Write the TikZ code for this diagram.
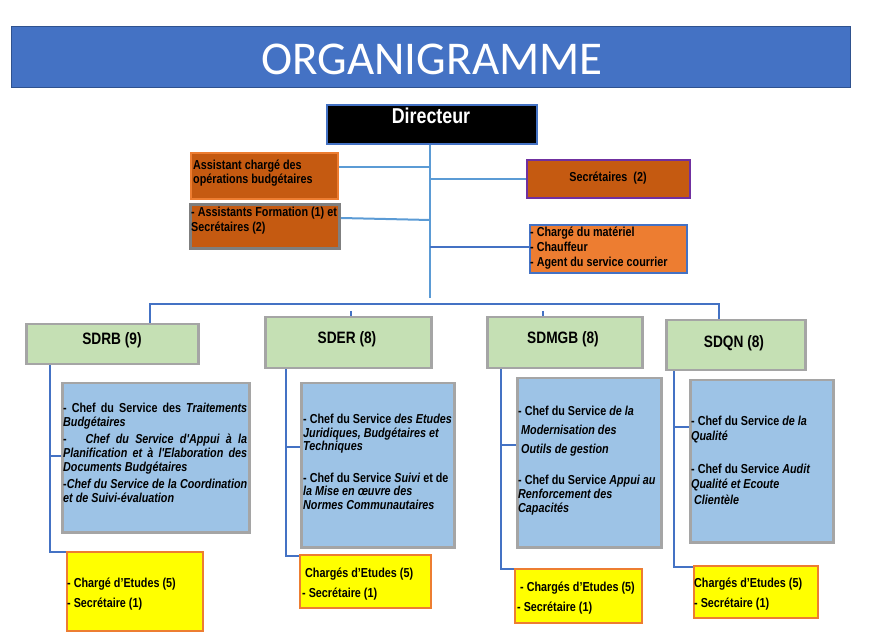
\documentclass[tikz,border=0pt]{standalone}
\usepackage{fontspec}
\setmainfont{Liberation Sans}
\newfontfamily\nar[
  UprightFont=Liberation Sans,
  BoldFont=Liberation Sans Bold,
  ItalicFont=Liberation Sans Italic,
  BoldItalicFont=Liberation Sans Bold Italic,
  FakeStretch=0.83,
  BoldFeatures={FakeStretch=0.83},
  ItalicFeatures={FakeStretch=0.83},
  BoldItalicFeatures={FakeStretch=0.83}]{Liberation Sans}
\newfontfamily\titlefont{Carlito}
\definecolor{tblue}{HTML}{4472C4}
\definecolor{tbluedark}{HTML}{2F528F}
\definecolor{lblue}{HTML}{5B9BD5}
\definecolor{dorange}{HTML}{C55A11}
\definecolor{orange2}{HTML}{ED7D31}
\definecolor{purp}{HTML}{7030A0}
\definecolor{grayb}{HTML}{7F7F7F}
\definecolor{grayc}{HTML}{A5A5A5}
\definecolor{greenf}{HTML}{C5E0B4}
\definecolor{bluef}{HTML}{9DC3E6}
\definecolor{yell}{HTML}{FFFF00}
\tikzset{
  rbox/.style={rectangle, inner sep=0pt, anchor=north west, line width=2pt},
  greenbox/.style={rbox, fill=greenf, draw=grayc, line width=2.5pt},
  bluebox/.style={rbox, fill=bluef, draw=grayc, line width=2.5pt},
  yellbox/.style={rbox, fill=yell, draw=orange2, line width=2pt},
  txt/.style={inner sep=0pt, font=\nar\bfseries\fontsize{13}{14}\selectfont, text=black},
  ltxt/.style={txt, anchor=base west, align=flush left, text width=200pt},
  ytxt/.style={ltxt, font=\nar\bfseries\fontsize{13}{20}\selectfont},
  ttl/.style={inner sep=0pt, font=\nar\bfseries\fontsize{16.5}{18}\selectfont, text=black, anchor=base},
  conn/.style={draw=tblue, line width=2pt},
  lconn/.style={draw=lblue, line width=2pt},
}
\begin{document}
\begin{tikzpicture}[x=1pt,y=-1pt]
\path[use as bounding box] (0,0) rectangle (876,644);
% title
\node[rbox, fill=tblue, draw=tbluedark, line width=1pt, minimum width=839pt, minimum height=61pt] (title) at (11,26) {};
\node[inner sep=0pt, anchor=base, text=white, font=\titlefont\fontsize{47}{50}\selectfont] (titletxt) at (432,75) {ORGANIGRAMME};
% directeur
\node[rbox, fill=black, draw=tblue, line width=2pt, minimum width=210pt, minimum height=39pt] (dir) at (326,104) {};
\node[inner sep=0pt, anchor=base, text=white, font=\nar\bfseries\fontsize{21.5}{24}\selectfont] (dirtxt) at (431,124) {Directeur};
% upper staff boxes
\node[rbox, fill=dorange, draw=orange2, minimum width=147pt, minimum height=46pt] (ba) at (190,152) {};
\node[ltxt, font=\nar\bfseries\fontsize{13}{13.5}\selectfont] (batxt) at (193,170) {Assistant chargé des\\opérations budgétaires};
\node[rbox, fill=dorange, draw=grayb, line width=3pt, minimum width=149pt, minimum height=44pt] (bb) at (189,203) {};
\node[ltxt, font=\nar\bfseries\fontsize{13}{15}\selectfont] (bbtxt) at (191,217) {- Assistants Formation (1) et\\Secrétaires (2)};
\node[rbox, fill=dorange, draw=purp, minimum width=163pt, minimum height=38pt] (sec) at (526,159) {};
\node[txt, anchor=base] (sectxt) at (608,182) {Secrétaires\ \ (2)};
\node[rbox, fill=orange2, draw=tblue, minimum width=157pt, minimum height=48pt] (bd) at (529,224) {};
\node[ltxt, font=\nar\bfseries\fontsize{13}{15}\selectfont] (bdtxt) at (530,237) {- Chargé du matériel\\- Chauffeur\\- Agent du service courrier};
% upper connectors
\coordinate (vend) at (430,298);
\draw[lconn] (dir.south -| vend) -- (vend);
\draw[lconn] (ba.east |- 0,167) -- (430,167);
\draw[lconn] (430,179) -- (sec.west |- 0,179);
\draw[lconn] (bb.east |- 0,218) -- (430,220);
\draw[conn] (430,247) -- (bd.west |- 0,247);
% sub-directions
\node[greenbox, minimum width=172pt, minimum height=40pt] (sdrb) at (25,323) {};
\node[ttl] (sdrbtxt) at (112,345) {SDRB (9)};
\node[greenbox, minimum width=166pt, minimum height=51pt] (sder) at (264,316) {};
\node[ttl] (sdertxt) at (347,344) {SDER (8)};
\node[greenbox, minimum width=155pt, minimum height=51pt] (sdmgb) at (486,316) {};
\node[ttl] (sdmgbtxt) at (563,344) {SDMGB (8)};
\node[greenbox, minimum width=139pt, minimum height=50pt] (sdqn) at (665,319) {};
\node[ttl] (sdqntxt) at (734,348) {SDQN (8)};
% bar
\draw[conn] (sdrb.north -| 150,0) -- (150,304) -- (720,304);
\draw[conn] (351,311) -- (sder.north -| 351,0);
\draw[conn] (543,311) -- (sdmgb.north -| 543,0);
\draw[conn] (719,304) -- (sdqn.north -| 719,0);
% blue boxes
\node[bluebox, minimum width=187pt, minimum height=149pt] (b1) at (61,382) {};
\node[txt, anchor=base west, text width=184pt, align=justify] (b1txt) at (63,413) {%
- Chef du Service des \textit{Traitements}\linebreak\textit{Budgétaires}\par\vspace{3pt}
-\ \ \ \textit{Chef du Service d'Appui à la}\linebreak\textit{Planification et à l'Elaboration des}\linebreak\textit{Documents Budgétaires}\par\vspace{3pt}
-\textit{Chef du Service de la Coordination}\linebreak\textit{et de Suivi-évaluation}};
\node[bluebox, minimum width=153pt, minimum height=164pt] (b2) at (300,382) {};
\node[ltxt] (b2txt) at (303,423) {%
- Chef du Service \textit{des Etudes}\\\textit{Juridiques, Budgétaires et}\\\textit{Techniques}\\[17pt]
- Chef du Service \textit{Suivi} et de\\\textit{la Mise en œuvre des}\\\textit{Normes Communautaires}};
\node[bluebox, minimum width=144pt, minimum height=169pt] (b3) at (516,377) {};
\node[ltxt] (b3txt) at (518,415) {%
- Chef du Service \textit{de la}\\[5pt]\ \textit{Modernisation des}\\[6pt]\ \textit{Outils de gestion}\\[17pt]
- Chef du Service \textit{Appui au}\\\textit{Renforcement des}\\\textit{Capacités}};
\node[bluebox, minimum width=143pt, minimum height=162pt] (b4) at (689,379) {};
\node[ltxt, font=\nar\bfseries\fontsize{13}{15.5}\selectfont] (b4txt) at (691,425) {%
- Chef du Service \textit{de la}\\\textit{Qualité}\\[17pt]
- Chef du Service \textit{Audit}\\\textit{Qualité et Ecoute}\\\ \textit{Clientèle}};
% yellow boxes
\node[yellbox, minimum width=136pt, minimum height=79pt] (y1) at (66,551) {};
\node[ytxt] (y1txt) at (67,587) {- Chargé d’Etudes (5)\\- Secrétaire (1)};
\node[yellbox, minimum width=131pt, minimum height=53pt] (y2) at (299,554) {};
\node[ytxt] (y2txt) at (302,577) {\ Chargés d’Etudes (5)\\- Secrétaire (1)};
\node[yellbox, minimum width=127pt, minimum height=54pt] (y3) at (514,568) {};
\node[ytxt] (y3txt) at (517,591) {\ - Chargés d’Etudes (5)\\- Secrétaire (1)};
\node[yellbox, minimum width=124pt, minimum height=52pt] (y4) at (693,565) {};
\node[ytxt] (y4txt) at (694,587) {Chargés d’Etudes (5)\\- Secrétaire (1)};
% lower connectors
\draw[conn] (sdrb.south -| 50,0) |- ([yshift=-1pt]y1.north west);
\draw[conn] (50,456) -- (b1.west |- 0,456);
\draw[conn] (sder.south -| 286,0) |- ([yshift=-2pt]y2.north west);
\draw[conn] (286,447) -- (b2.west |- 0,447);
\draw[conn] (sdmgb.south -| 501,0) |- ([yshift=-1pt]y3.north west);
\draw[conn] (501,445) -- (b3.west |- 0,445);
\draw[conn] (sdqn.south -| 674,0) |- ([yshift=-2pt]y4.north west);
\draw[conn] (674,427) -- (b4.west |- 0,427);
\end{tikzpicture}
\end{document}
